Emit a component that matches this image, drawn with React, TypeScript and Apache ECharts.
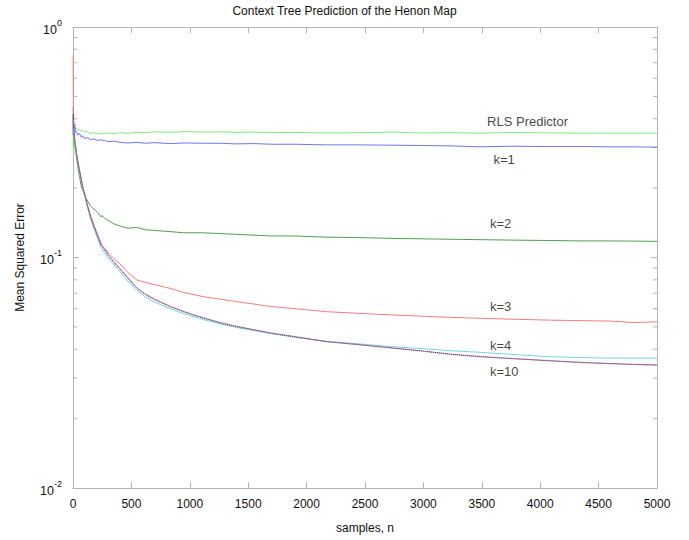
import React, { useEffect, useRef } from "react";
import * as echarts from "echarts";

const samples = [1, 3, 6, 10, 15, 20, 30, 40, 55, 70, 85, 100, 120, 150, 180, 210, 240, 250, 270, 300, 350, 400, 470, 545, 620, 700, 830, 950, 1116, 1260, 1400, 1550, 1700, 1900, 2170, 2450, 2740, 3000, 3230, 3485, 3750, 4080, 4350, 4600, 4800, 5000];

const rlsValues = [0.30, 0.42, 0.28, 0.33, 0.37, 0.36, 0.365, 0.355, 0.36, 0.352, 0.356, 0.35, 0.352, 0.345, 0.348, 0.343, 0.346, 0.344, 0.345, 0.347, 0.344, 0.348, 0.346, 0.35, 0.348, 0.351, 0.349, 0.352, 0.35, 0.351, 0.349, 0.35, 0.348, 0.349, 0.347, 0.348, 0.35, 0.347, 0.348, 0.346, 0.349, 0.347, 0.346, 0.346, 0.346, 0.346];

const k1Values = [0.34, 0.40, 0.37, 0.36, 0.38, 0.35, 0.35, 0.34, 0.345, 0.333, 0.337, 0.328, 0.332, 0.325, 0.327, 0.322, 0.325, 0.321, 0.322, 0.318, 0.32, 0.316, 0.314, 0.316, 0.313, 0.315, 0.312, 0.314, 0.313, 0.313, 0.311, 0.312, 0.31, 0.31, 0.308, 0.308, 0.307, 0.306, 0.305, 0.302, 0.304, 0.303, 0.303, 0.302, 0.302, 0.301];

const k2Values = [0.45, 0.38, 0.34, 0.32, 0.31, 0.30, 0.27, 0.25, 0.225, 0.205, 0.195, 0.185, 0.178, 0.167, 0.162, 0.157, 0.15, 0.152, 0.148, 0.145, 0.14, 0.137, 0.134, 0.135, 0.132, 0.131, 0.1295, 0.128, 0.128, 0.127, 0.126, 0.125, 0.124, 0.124, 0.1225, 0.122, 0.121, 0.1205, 0.12, 0.1195, 0.119, 0.1185, 0.118, 0.118, 0.1178, 0.1175];

const k3Values = [0.75, 0.48, 0.40, 0.36, 0.33, 0.31, 0.285, 0.265, 0.24, 0.22, 0.20, 0.19, 0.172, 0.152, 0.138, 0.126, 0.116, 0.112, 0.11, 0.105, 0.099, 0.094, 0.086, 0.08, 0.078, 0.0762, 0.0735, 0.0705, 0.0676, 0.066, 0.0643, 0.0628, 0.0612, 0.06, 0.0582, 0.0572, 0.0563, 0.0556, 0.055, 0.0545, 0.054, 0.0535, 0.0532, 0.053, 0.0522, 0.0526];

const k4Values = [0.38, 0.40, 0.35, 0.335, 0.315, 0.30, 0.28, 0.26, 0.235, 0.215, 0.198, 0.185, 0.168, 0.147, 0.133, 0.121, 0.110, 0.109, 0.105, 0.099, 0.093, 0.087, 0.079, 0.072, 0.0675, 0.064, 0.06, 0.057, 0.0538, 0.0515, 0.0497, 0.0482, 0.0467, 0.0451, 0.0433, 0.0422, 0.041, 0.0402, 0.0394, 0.0388, 0.038, 0.0371, 0.0368, 0.0366, 0.0366, 0.0366];

const k5Values = [0.36, 0.41, 0.37, 0.345, 0.322, 0.307, 0.285, 0.263, 0.24, 0.219, 0.201, 0.189, 0.171, 0.151, 0.137, 0.125, 0.114, 0.112, 0.109, 0.103, 0.096, 0.09, 0.082, 0.074, 0.0695, 0.066, 0.0615, 0.0583, 0.0548, 0.0522, 0.0503, 0.0486, 0.047, 0.0454, 0.0432, 0.0419, 0.0405, 0.0393, 0.0381, 0.0372, 0.0365, 0.0357, 0.0351, 0.0347, 0.0344, 0.0342];

const k10Values = [0.40, 0.42, 0.36, 0.34, 0.32, 0.305, 0.283, 0.262, 0.238, 0.218, 0.20, 0.188, 0.17, 0.15, 0.136, 0.124, 0.113, 0.111, 0.108, 0.102, 0.095, 0.089, 0.081, 0.0735, 0.069, 0.0655, 0.0612, 0.058, 0.0545, 0.052, 0.0501, 0.0485, 0.0469, 0.0452, 0.0431, 0.0418, 0.0404, 0.0392, 0.038, 0.0371, 0.0364, 0.0356, 0.035, 0.0346, 0.0343, 0.0341];

const xTicks = [0, 500, 1000, 1500, 2000, 2500, 3000, 3500, 4000, 4500, 5000];
const minorTickValues = [0.02, 0.03, 0.04, 0.05, 0.06, 0.07, 0.08, 0.09, 0.2, 0.3, 0.4, 0.5, 0.6, 0.7, 0.8, 0.9];

const annotationTexts = ["RLS Predictor", "k=1", "k=2", "k=3", "k=4", "k=10"];
const annotationN = [3545, 3600, 3570, 3570, 3570, 3570];
const annotationValues = [0.391, 0.267, 0.141, 0.0616, 0.0417, 0.0319];

const FONT = "'Liberation Sans', Arial, Helvetica, sans-serif";
const AXIS_COLOR = "#b4b4b4";

function pairs(vals: number[]) {
  return samples.map((n, i) => [n, vals[i]]);
}

export default function App() {
  const ref = useRef<HTMLDivElement>(null);
  useEffect(() => {
    if (!ref.current) return;
    const chart = echarts.init(ref.current, undefined, { renderer: "svg" });
    const lineSeries = (name: string, vals: number[], color: string, type: any = "solid", z = 2) => ({
      name,
      type: "line",
      data: pairs(vals),
      showSymbol: false,
      symbol: "none",
      silent: true,
      z,
      lineStyle: { width: 1, color, type },
    });
    const option: any = {
      animation: false,
      backgroundColor: "#ffffff",
      textStyle: { fontFamily: FONT },
      title: {
        text: "Context Tree Prediction of the Henon Map",
        left: "center",
        top: 0,
        textStyle: { fontFamily: FONT, fontSize: 12, fontWeight: "normal", color: "#111" },
      },
      grid: { left: 73, right: 32, top: 27, bottom: 52 },
      xAxis: [
        {
          type: "value",
          min: 0,
          max: 5000,
          interval: 500,
          position: "bottom",
          name: "samples, n",
          nameLocation: "middle",
          nameGap: 34,
          nameTextStyle: { fontFamily: FONT, fontSize: 12, color: "#111" },
          axisLine: { show: true, onZero: false, lineStyle: { color: AXIS_COLOR, width: 1 } },
          axisTick: { show: true, inside: true, length: 6, lineStyle: { color: AXIS_COLOR } },
          axisLabel: {
            show: true,
            margin: 10,
            fontFamily: FONT,
            fontSize: 12,
            color: "#111",
            formatter: (v: number) => (xTicks.includes(v) ? String(v) : ""),
          },
          splitLine: { show: false },
        },
        {
          type: "value",
          min: 0,
          max: 5000,
          interval: 500,
          position: "top",
          axisLine: { show: true, onZero: false, lineStyle: { color: AXIS_COLOR, width: 1 } },
          axisTick: { show: true, inside: true, length: 6, lineStyle: { color: AXIS_COLOR } },
          axisLabel: { show: false },
          splitLine: { show: false },
        },
      ],
      yAxis: [
        {
          type: "log",
          logBase: 10,
          min: 0.01,
          max: 1,
          position: "left",
          name: "Mean Squared Error",
          nameLocation: "middle",
          nameRotate: 90,
          nameGap: 47,
          nameTextStyle: { fontFamily: FONT, fontSize: 12, color: "#111" },
          axisLine: { show: true, onZero: false, lineStyle: { color: AXIS_COLOR, width: 1 } },
          axisTick: { show: true, inside: true, length: 6, lineStyle: { color: AXIS_COLOR } },
          axisLabel: {
            show: true,
            margin: 11,
            formatter: (v: number) => `{b|10}{s|${Math.round(Math.log10(v))}}`,
            rich: {
              b: { fontFamily: FONT, fontSize: 12.5, color: "#111", lineHeight: 18, verticalAlign: "bottom" },
              s: { fontFamily: FONT, fontSize: 9, color: "#111", lineHeight: 18, verticalAlign: "top" },
            },
          },
          splitLine: { show: false },
        },
        {
          type: "log",
          logBase: 10,
          min: 0.01,
          max: 1,
          position: "right",
          axisLine: { show: true, onZero: false, lineStyle: { color: AXIS_COLOR, width: 1 } },
          axisTick: { show: true, inside: true, length: 6, lineStyle: { color: AXIS_COLOR } },
          axisLabel: { show: false },
          splitLine: { show: false },
        },
      ],
      series: [
        {
          type: "custom",
          silent: true,
          xAxisIndex: 0,
          yAxisIndex: 0,
          clip: false,
          data: minorTickValues.map((v) => [0, v]),
          renderItem: (params: any, api: any) => {
            const p = api.coord([0, api.value(1)]);
            const cs = params.coordSys;
            return {
              type: "group",
              children: [
                { type: "line", shape: { x1: cs.x, y1: p[1], x2: cs.x + 4, y2: p[1] }, style: { stroke: AXIS_COLOR, lineWidth: 1 } },
                { type: "line", shape: { x1: cs.x + cs.width - 4, y1: p[1], x2: cs.x + cs.width, y2: p[1] }, style: { stroke: AXIS_COLOR, lineWidth: 1 } },
              ],
            };
          },
        },
        lineSeries("RLS Predictor", rlsValues, "#7ced7c"),
        lineSeries("k=1", k1Values, "#7272f6"),
        lineSeries("k=2", k2Values, "#4f9f4f"),
        lineSeries("k=3", k3Values, "#f77b7b"),
        lineSeries("k=4", k4Values, "#6fd6e6"),
        lineSeries("k=5", k5Values, "#c47ad0", "solid", 3),
        lineSeries("k=10", k10Values, "#5a4a3a", "dotted", 4),
        {
          type: "scatter",
          silent: true,
          symbolSize: 0,
          data: annotationTexts.map((t, i) => [annotationN[i], annotationValues[i], t]),
          label: {
            show: true,
            position: "right",
            distance: 0,
            fontFamily: FONT,
            fontSize: 13,
            color: "#111",
            formatter: (p: any) => p.value[2],
          },
        },
      ],
    };
    chart.setOption(option);
    return () => chart.dispose();
  }, []);
  return <div ref={ref} style={{ position: "fixed", left: 0, top: 0, width: 689, height: 540 }} />;
}
